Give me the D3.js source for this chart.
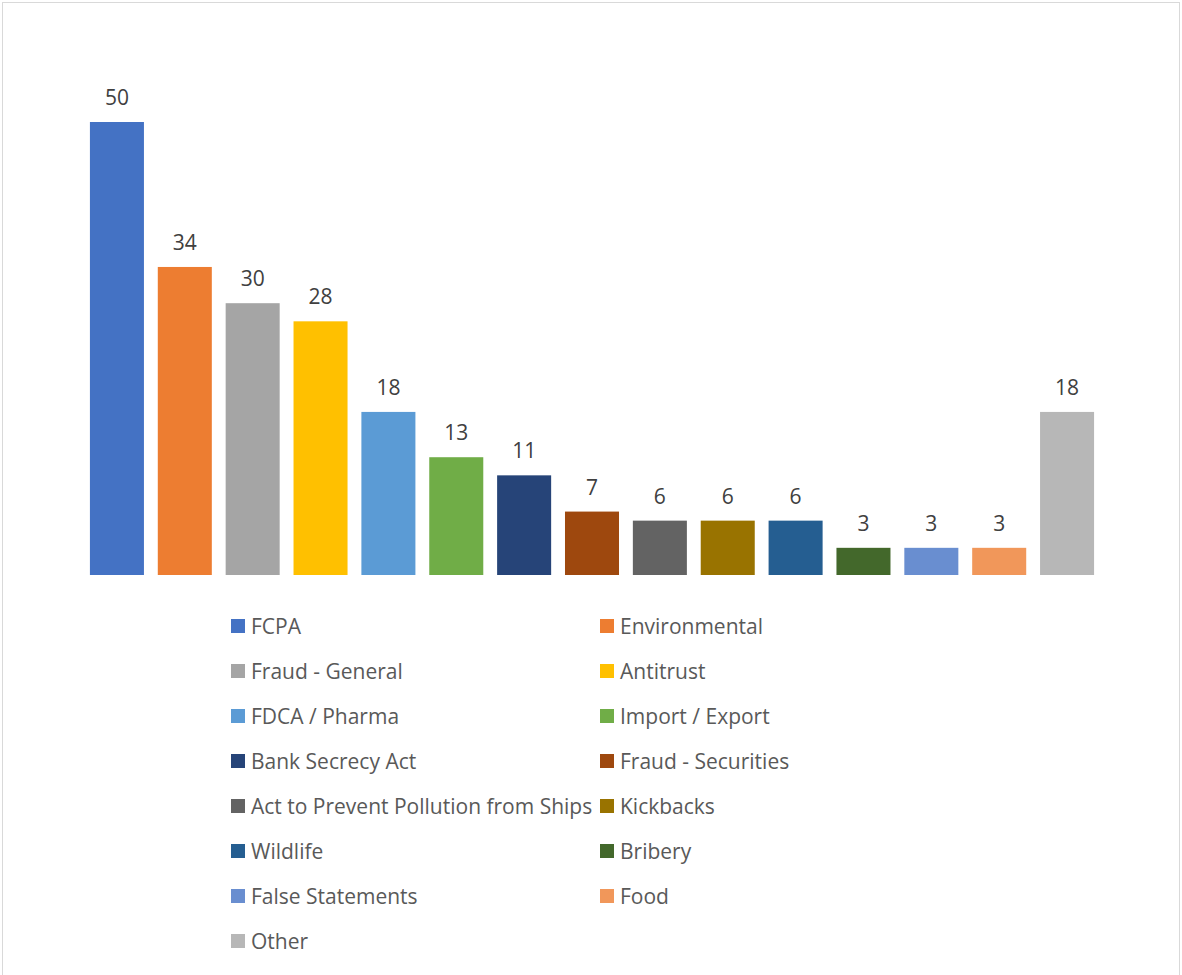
<!DOCTYPE html>
<html>
<head>
<meta charset="utf-8">
<script src="https://cdn.jsdelivr.net/npm/d3@7"></script>
<style>
  html, body { margin: 0; padding: 0; background: #fff; }
  svg { display: block; }
</style>
</head>
<body>
<svg id="chart" width="1182" height="975"></svg>
<script>
// Case counts by offence category
const categories = [
  "FCPA", "Environmental", "Fraud - General", "Antitrust", "FDCA / Pharma",
  "Import / Export", "Bank Secrecy Act", "Fraud - Securities",
  "Act to Prevent Pollution from Ships", "Kickbacks", "Wildlife", "Bribery",
  "False Statements", "Food", "Other"
];
const counts = [50, 34, 30, 28, 18, 13, 11, 7, 6, 6, 6, 3, 3, 3, 18];
const colors = [
  "#4472C4", "#ED7D31", "#A5A5A5", "#FFC000", "#5B9BD5",
  "#70AD47", "#264478", "#9E480E", "#636363", "#997300",
  "#255E91", "#43682B", "#698ED0", "#F1975A", "#B7B7B7"
];

const data = categories.map((c, i) => ({ name: c, value: counts[i], color: colors[i] }));

const svg = d3.select("#chart");
const font = "'Open Sans', 'Noto Sans', sans-serif";

// chart frame
svg.append("rect")
  .attr("x", 2.5).attr("y", 2.5)
  .attr("width", 1177).attr("height", 990)
  .attr("fill", "#fff")
  .attr("stroke", "#D9D9D9")
  .attr("stroke-width", 1);

const x = d3.scaleBand()
  .domain(categories)
  .range([83, 1101])
  .paddingInner(0.204)
  .paddingOuter(0.102);

const y = d3.scaleLinear()
  .domain([0, 50])
  .range([575, 122]);

const plot = svg.append("g");

plot.selectAll("rect.bar")
  .data(data)
  .join("rect")
  .attr("class", "bar")
  .attr("x", d => x(d.name))
  .attr("y", d => y(d.value))
  .attr("width", x.bandwidth())
  .attr("height", d => y(0) - y(d.value))
  .attr("fill", d => d.color);

plot.selectAll("text.val")
  .data(data)
  .join("text")
  .attr("class", "val")
  .attr("x", d => x(d.name) + x.bandwidth() / 2)
  .attr("y", d => y(d.value) - 17)
  .attr("text-anchor", "middle")
  .attr("font-family", font)
  .attr("font-size", 21)
  .attr("fill", "#404040")
  .text(d => d.value);

// legend: two columns, filled row by row
const legendCols = [231, 600];
const legendTop = 626;
const rowGap = 45;

const legend = svg.append("g");
const items = legend.selectAll("g.item")
  .data(data)
  .join("g")
  .attr("class", "item")
  .attr("transform", (d, i) => `translate(${legendCols[i % 2]},${legendTop + Math.floor(i / 2) * rowGap})`);

items.append("rect")
  .attr("x", 0).attr("y", -7)
  .attr("width", 14).attr("height", 14)
  .attr("fill", d => d.color);

items.append("text")
  .attr("x", 20)
  .attr("y", 0)
  .attr("dy", "0.36em")
  .attr("font-family", font)
  .attr("font-size", 21)
  .attr("fill", "#595959")
  .text(d => d.name);
</script>
</body>
</html>
